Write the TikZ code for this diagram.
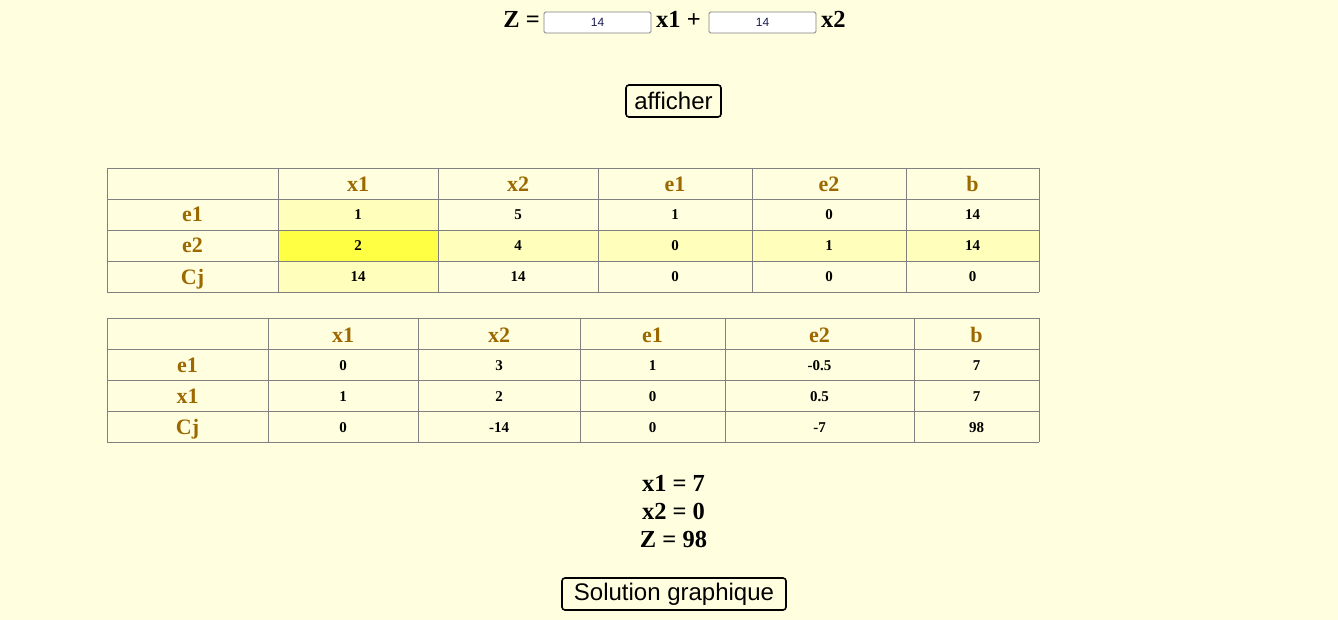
\documentclass[tikz,border=0pt]{standalone}
\usepackage{fontspec}
\setmainfont{Liberation Serif}[BoldFont={Liberation Serif Bold}]
\setsansfont{Liberation Sans}
\definecolor{bg}{HTML}{FFFFE0}
\definecolor{hl}{HTML}{FFFFBB}
\definecolor{piv}{HTML}{FFFF44}
\definecolor{head}{RGB}{156,104,0}
\definecolor{grid}{HTML}{808080}
\definecolor{inp}{HTML}{1A1A50}
\tikzset{
  cellbox/.style={draw=grid, line width=0.8pt},
  headtxt/.style={font=\fontsize{22}{24}\selectfont\bfseries, text=head, inner sep=0pt, anchor=base},
  valtxt/.style={font=\fontsize{15}{17}\selectfont\bfseries, text=black, inner sep=0pt, anchor=base},
  bigtxt/.style={font=\fontsize{24.5}{28}\selectfont\bfseries, inner sep=0pt, anchor=base},
  inputbox/.style={draw=grid, fill=white, rounded corners=1.5pt, line width=0.8pt, minimum width=107pt, minimum height=21pt, inner sep=0pt, font=\sffamily\fontsize{12}{14}\selectfont, text=inp},
  button/.style={draw=black, line width=1.6pt, rounded corners=3pt, inner sep=0pt, font=\sffamily\fontsize{24}{26}\selectfont},
}
\begin{document}
\begin{tikzpicture}[x=1pt,y=-1pt]
\fill[bg] (0,0) rectangle (1338,620);
\useasboundingbox (0,0) rectangle (1338,620);

% ---------- top line ----------
\node[bigtxt, anchor=base east] (zlab) at (540,28) {Z =};
\node[inputbox] (in1) at (597.5,22.5) {14};
\node[bigtxt, anchor=base west] (x1plus) at (656,28) {x1 +};
\node[inputbox] (in2) at (762.5,22.5) {14};
\node[bigtxt, anchor=base west] (x2lab) at (821,28) {x2};

% ---------- afficher ----------
\node[button, minimum width=95pt, minimum height=32pt] (aff) at (673.5,101) {afficher};

% ---------- table 1 ----------
\fill[hl] (278,199) rectangle (438,292);
\fill[hl] (107,230) rectangle (1039,261);
\fill[bg] (107,230) rectangle (278,261);
\fill[piv] (278,230) rectangle (438,261);
\foreach \x in {107,278,438,598,752,906,1039} \draw[grid, line width=0.8pt] (\x,168) -- (\x,292);
\foreach \y in {168,199,230,261,292} \draw[grid, line width=0.8pt] (107,\y) -- (1039,\y);

\foreach \t [count=\i] in {x1,x2,e1,e2,b}{
  \pgfmathsetmacro{\cx}{{0,358,518,675,829,972.5}[\i]}
  \node[headtxt] (ta-h\i) at (\cx,192) {\t};
}
\foreach \t [count=\j] in {e1,e2,Cj}{
  \pgfmathsetmacro{\cy}{{0,222,253,284}[\j]}
  \node[headtxt] (ta-r\j) at (192.5,\cy) {\t};
}
\foreach \r [count=\j] in {{1,5,1,0,14},{2,4,0,1,14},{14,14,0,0,0}}{
  \pgfmathsetmacro{\cy}{{0,220,251,282}[\j]}
  \foreach \v [count=\i] in \r {
    \pgfmathsetmacro{\cx}{{0,358,518,675,829,972.5}[\i]}
    \node[valtxt] (ta-\j-\i) at (\cx,\cy) {\v};
  }
}

% ---------- table 2 ----------
\foreach \x in {107,268,418,580,725,914,1039} \draw[grid, line width=0.8pt] (\x,318) -- (\x,442);
\foreach \y in {318,349,380,411,442} \draw[grid, line width=0.8pt] (107,\y) -- (1039,\y);

\foreach \t [count=\i] in {x1,x2,e1,e2,b}{
  \pgfmathsetmacro{\cx}{{0,343,499,652.5,819.5,976.5}[\i]}
  \node[headtxt] (tb-h\i) at (\cx,342) {\t};
}
\foreach \t [count=\j] in {e1,x1,Cj}{
  \pgfmathsetmacro{\cy}{{0,372,403,434}[\j]}
  \node[headtxt] (tb-r\j) at (187.5,\cy) {\t};
}
\foreach \r [count=\j] in {{0,3,1,-0.5,7},{1,2,0,0.5,7},{0,-14,0,-7,98}}{
  \pgfmathsetmacro{\cy}{{0,370,401,432}[\j]}
  \foreach \v [count=\i] in \r {
    \pgfmathsetmacro{\cx}{{0,343,499,652.5,819.5,976.5}[\i]}
    \node[valtxt] (tb-\j-\i) at (\cx,\cy) {\v};
  }
}

% ---------- results ----------
\node[bigtxt, anchor=base] (res1) at (673.5,491) {x1 = 7};
\node[bigtxt, anchor=base] (res2) at (673.5,519) {x2 = 0};
\node[bigtxt, anchor=base] (res3) at (673.5,547) {Z = 98};

% ---------- Solution graphique ----------
\node[button, minimum width=224pt, minimum height=32pt] (sol) at (674,594) {Solution graphique};
\end{tikzpicture}
\end{document}
